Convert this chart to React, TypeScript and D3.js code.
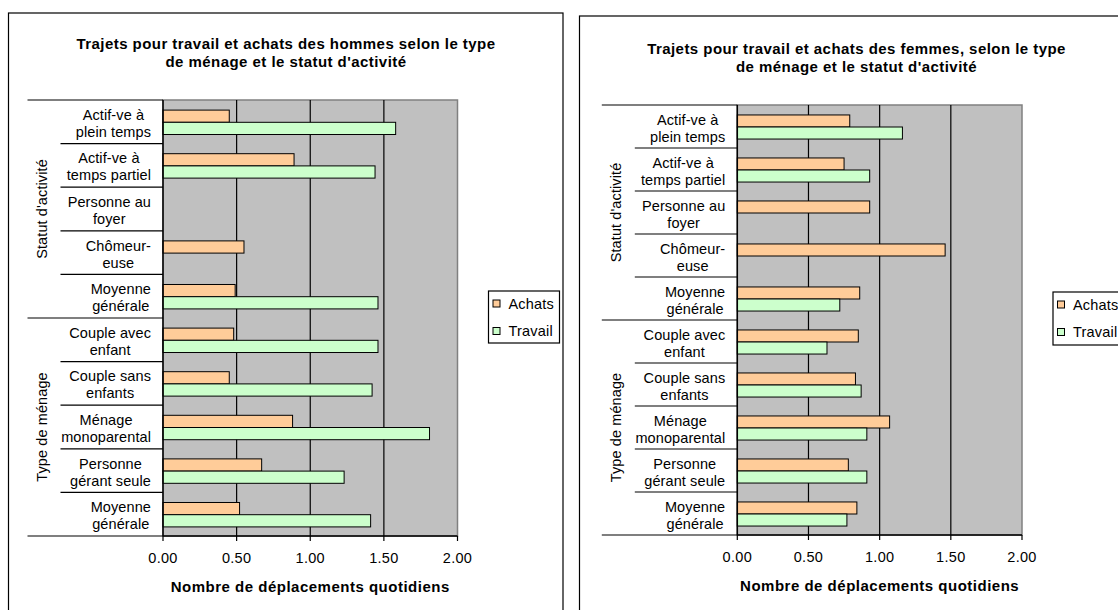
import React from "react";
import * as d3 from "d3";

// Category axis: two-line labels, top to bottom
const categoryLabels: string[][] = [
  ["Actif-ve à", "plein temps"],
  ["Actif-ve à", "temps partiel"],
  ["Personne au", "foyer"],
  ["Chômeur-", "euse"],
  ["Moyenne", "générale"],
  ["Couple avec", "enfant"],
  ["Couple sans", "enfants"],
  ["Ménage", "monoparental"],
  ["Personne", "gérant seule"],
  ["Moyenne", "générale"],
];
const groupLabels = ["Statut d'activité", "Type de ménage"];
const groupSizes = [5, 5];

const seriesNames = ["Achats", "Travail"];
const seriesColors = ["#FFCC99", "#CCFFCC"];
const xTicks = [0, 0.5, 1, 1.5, 2];
const xTitle = "Nombre de déplacements quotidiens";

// Daily trips (null = no bar)
const achatsHommes: (number | null)[] = [0.45, 0.89, null, 0.55, 0.49, 0.48, 0.45, 0.88, 0.67, 0.52];
const travailHommes: (number | null)[] = [1.58, 1.44, null, null, 1.46, 1.46, 1.42, 1.81, 1.23, 1.41];
const achatsFemmes: (number | null)[] = [0.79, 0.75, 0.93, 1.46, 0.86, 0.85, 0.83, 1.07, 0.78, 0.84];
const travailFemmes: (number | null)[] = [1.16, 0.93, null, null, 0.72, 0.63, 0.87, 0.91, 0.91, 0.77];

const titleHommes = [
  "Trajets pour travail et achats des hommes selon le type",
  "de ménage et le statut d'activité",
];
const titleFemmes = [
  "Trajets pour travail et achats des femmes, selon le type",
  "de ménage et le statut d'activité",
];

const FONT = "'Liberation Sans', Arial, Helvetica, sans-serif";
const LABEL_SIZE = 14.5;
const LABEL_LS = 0.1;

let measureCtx: CanvasRenderingContext2D | null = null;
function textWidth(text: string, size: number, weight = "normal", ls = 0): number {
  if (!measureCtx) measureCtx = document.createElement("canvas").getContext("2d");
  if (!measureCtx) return text.length * size * 0.55;
  measureCtx.font = `${weight} ${size}px 'Liberation Sans', Arial, sans-serif`;
  return measureCtx.measureText(text).width + ls * text.length;
}

type Layout = {
  box: { x: number; y: number; w: number; h: number };
  plot: { x0: number; x1: number; y0: number; y1: number };
  titleX: number;
  titleBaselines: number[];
  legend: { x: number; y: number; w: number; h: number };
};

function Panel({
  layout,
  title,
  achats,
  travail,
}: {
  layout: Layout;
  title: string[];
  achats: (number | null)[];
  travail: (number | null)[];
}) {
  const { box, plot, legend } = layout;
  const x = d3.scaleLinear().domain([0, 2]).range([plot.x0, plot.x1]);
  const y = d3
    .scaleBand<number>()
    .domain(d3.range(categoryLabels.length))
    .range([plot.y0, plot.y1]);
  const bw = y.bandwidth();
  const barH = bw * 0.28;
  const series = [achats, travail];

  // group boundaries (indices)
  const groupStarts: number[] = [];
  let acc = 0;
  groupSizes.forEach((s) => {
    groupStarts.push(acc);
    acc += s;
  });
  const isGroupEdge = (i: number) => groupStarts.includes(i) || i === categoryLabels.length;

  const labelRight = plot.x0 - 12;
  const catLineX = plot.x0 - 102.5;
  const groupLineX = plot.x0 - 135.5;

  return (
    <g>
      <rect x={box.x} y={box.y} width={box.w} height={box.h} fill="#fff" stroke="#000" strokeWidth={1.2} />

      {title.map((t, i) => (
        <text
          key={i}
          x={layout.titleX}
          y={layout.titleBaselines[i]}
          textAnchor="middle"
          fontFamily={FONT}
          fontSize={15}
          fontWeight="bold"
          letterSpacing={0.45}
          fill="#000"
        >
          {t}
        </text>
      ))}

      {/* plot area */}
      <rect
        x={plot.x0}
        y={plot.y0}
        width={plot.x1 - plot.x0}
        height={plot.y1 - plot.y0}
        fill="#C0C0C0"
        stroke="#808080"
        strokeWidth={1.5}
      />
      {xTicks
        .filter((t) => t > 0 && t < 2)
        .map((t) => (
          <line key={t} x1={x(t)} x2={x(t)} y1={plot.y0} y2={plot.y1} stroke="#000" strokeWidth={1.2} />
        ))}

      {/* bars */}
      {series.map((vals, s) =>
        vals.map((v, i) =>
          v == null ? null : (
            <rect
              key={`${s}-${i}`}
              x={x(0)}
              y={(y(i) as number) + bw / 2 + 0.5 - barH + s * barH}
              width={x(v) - x(0)}
              height={barH}
              fill={seriesColors[s]}
              stroke="#000"
              strokeWidth={1}
            />
          )
        )
      )}

      {/* axes */}
      <line x1={plot.x0} x2={plot.x0} y1={plot.y0} y2={plot.y1} stroke="#000" strokeWidth={1.5} />
      <line x1={plot.x0} x2={plot.x1} y1={plot.y1} y2={plot.y1} stroke="#000" strokeWidth={1.5} />
      {xTicks.map((t) => (
        <g key={t}>
          <line x1={x(t)} x2={x(t)} y1={plot.y1} y2={plot.y1 + 5} stroke="#000" strokeWidth={1.2} />
          <text
            x={x(t)}
            y={plot.y1 + 26.5}
            textAnchor="middle"
            fontFamily={FONT}
            fontSize={LABEL_SIZE}
            letterSpacing={0.3}
            fill="#000"
          >
            {d3.format(".2f")(t)}
          </text>
        </g>
      ))}
      <text
        x={(plot.x0 + plot.x1) / 2}
        y={plot.y1 + 56}
        textAnchor="middle"
        fontFamily={FONT}
        fontSize={15}
        fontWeight="bold"
        letterSpacing={0.5}
        fill="#000"
      >
        {xTitle}
      </text>

      {/* category separators */}
      {d3.range(categoryLabels.length + 1).map((i) => {
        const yy = i === categoryLabels.length ? plot.y1 : (y(i) as number);
        return (
          <line
            key={i}
            x1={isGroupEdge(i) ? groupLineX : catLineX}
            x2={plot.x0}
            y1={yy}
            y2={yy}
            stroke="#000"
            strokeWidth={1.2}
          />
        );
      })}

      {/* category labels: block right-aligned, lines centred in block */}
      {categoryLabels.map((lines, i) => {
        const blockW = Math.max(...lines.map((l) => textWidth(l, LABEL_SIZE, "normal", LABEL_LS)));
        const cx = labelRight - blockW / 2;
        const cy = (y(i) as number) + bw / 2;
        return (
          <g key={i}>
            {lines.map((l, k) => (
              <text
                key={k}
                x={cx}
                y={cy - 2 + k * 17}
                textAnchor="middle"
                fontFamily={FONT}
                fontSize={LABEL_SIZE}
                letterSpacing={LABEL_LS}
                fill="#000"
              >
                {l}
              </text>
            ))}
          </g>
        );
      })}

      {/* group labels */}
      {groupLabels.map((g, gi) => {
        const start = groupStarts[gi];
        const end = start + groupSizes[gi];
        const yTop = y(start) as number;
        const yBot = end === categoryLabels.length ? plot.y1 : (y(end) as number);
        const cy = (yTop + yBot) / 2;
        const bx = groupLineX + 19.3;
        return (
          <text
            key={g}
            transform={`translate(${bx},${cy}) rotate(-90)`}
            textAnchor="middle"
            fontFamily={FONT}
            fontSize={LABEL_SIZE}
            letterSpacing={LABEL_LS}
            fill="#000"
          >
            {g}
          </text>
        );
      })}

      {/* legend */}
      <rect x={legend.x} y={legend.y} width={legend.w} height={legend.h} fill="#fff" stroke="#000" strokeWidth={1.2} />
      {seriesNames.map((n, s) => {
        const cy = legend.y + 12.5 + s * 27.5;
        return (
          <g key={n}>
            <rect x={legend.x + 4.5} y={cy - 3.5} width={7} height={7} fill={seriesColors[s]} stroke="#000" strokeWidth={1} />
            <text x={legend.x + 20} y={cy + 5} fontFamily={FONT} fontSize={LABEL_SIZE} letterSpacing={0.2} fill="#000">
              {n}
            </text>
          </g>
        );
      })}
    </g>
  );
}

const layoutHommes: Layout = {
  box: { x: 8.5, y: 13, w: 554.5, h: 610 },
  plot: { x0: 163, x1: 457.5, y0: 100, y1: 536 },
  titleX: 286,
  titleBaselines: [48.5, 67],
  legend: { x: 488.5, y: 291, w: 71, h: 52 },
};

const layoutFemmes: Layout = {
  box: { x: 579.5, y: 16, w: 554, h: 610 },
  plot: { x0: 737.3, x1: 1022, y0: 105, y1: 535 },
  titleX: 856.5,
  titleBaselines: [53.5, 71.5],
  legend: { x: 1053, y: 292, w: 71, h: 53 },
};

export default function App() {
  return (
    <svg
      width={1118}
      height={610}
      style={{ position: "absolute", left: 0, top: 0, background: "#fff" }}
    >
      <rect x={0} y={0} width={1118} height={610} fill="#fff" />
      <Panel layout={layoutHommes} title={titleHommes} achats={achatsHommes} travail={travailHommes} />
      <Panel layout={layoutFemmes} title={titleFemmes} achats={achatsFemmes} travail={travailFemmes} />
    </svg>
  );
}
